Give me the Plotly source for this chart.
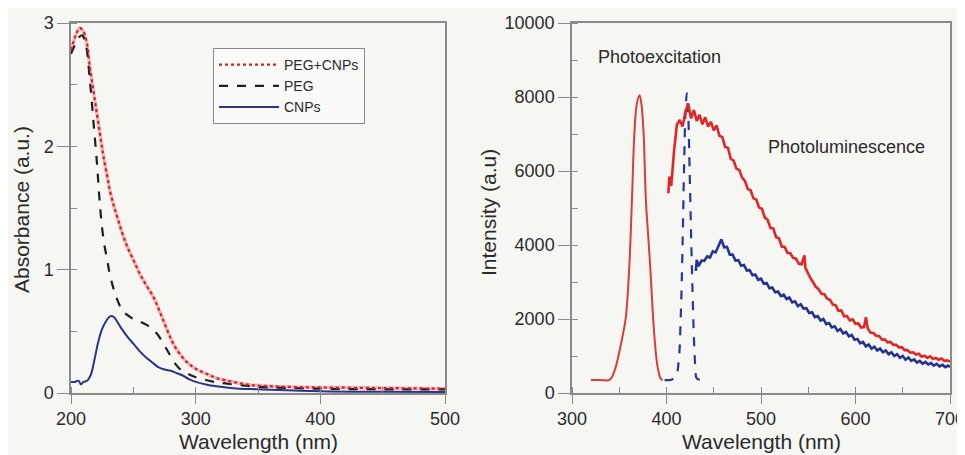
import plotly.graph_objects as go

# ---------------- Left panel: UV-Vis absorbance ----------------
abs_pegcnp_x = [200, 203, 205, 207, 210, 213, 215, 218, 221, 224, 226, 229, 231, 234, 237, 241, 245, 250,
                255, 260, 266, 270, 274, 278, 282, 287, 293, 298, 303, 310, 317, 330, 344, 360, 380, 400, 450, 500]
abs_pegcnp_y = [2.78, 2.88, 2.93, 2.96, 2.93, 2.82, 2.65, 2.45, 2.25, 2.05, 1.92, 1.76, 1.65, 1.53, 1.43, 1.30,
                1.19, 1.08, 0.97, 0.88, 0.78, 0.69, 0.59, 0.49, 0.40, 0.32, 0.25, 0.21, 0.18, 0.15, 0.12, 0.09,
                0.065, 0.055, 0.048, 0.045, 0.04, 0.035]

abs_peg_x = [200, 203, 206, 209, 212, 215, 218, 221, 223, 226, 229, 231, 234, 237, 240, 243, 247, 250, 255,
             261, 265, 269, 273, 277, 281, 285, 289, 293, 298, 303, 315, 330, 350, 400, 450, 500]
abs_peg_y = [2.75, 2.82, 2.88, 2.90, 2.82, 2.55, 2.20, 1.84, 1.55, 1.25, 1.08, 0.97, 0.85, 0.76, 0.69, 0.65,
             0.62, 0.60, 0.58, 0.55, 0.52, 0.48, 0.42, 0.35, 0.28, 0.22, 0.18, 0.16, 0.135, 0.12, 0.09, 0.07,
             0.05, 0.035, 0.03, 0.03]

abs_cnp_x = [200, 203, 206, 208, 210, 213, 216, 219, 222, 225, 228, 231, 234, 237, 240, 245, 250, 255, 260,
             265, 270, 275, 280, 285, 290, 295, 300, 310, 320, 335, 350, 400, 450, 500]
abs_cnp_y = [0.09, 0.09, 0.10, 0.07, 0.09, 0.10, 0.15, 0.28, 0.42, 0.52, 0.58, 0.62, 0.62, 0.58, 0.53, 0.46,
             0.40, 0.34, 0.29, 0.25, 0.21, 0.19, 0.18, 0.16, 0.14, 0.11, 0.09, 0.065, 0.05, 0.035, 0.03, 0.015,
             0.01, 0.008]

# ---------------- Right panel: excitation / photoluminescence ----------------
exc_red_x = [320, 330, 340, 345, 350, 354, 357, 360.6, 363.4, 366, 368.5, 371.5, 373.5, 375.8, 378.2, 380.5,
             382.8, 385, 387, 390.6, 394, 396]
exc_red_y = [350, 350, 360, 600, 1100, 1600, 2050, 3400, 5200, 7000, 7800, 8050, 7800, 7000, 5200, 4300,
             3400, 2400, 1600, 700, 380, 350]

exc_blue_x = [398, 405, 410, 413, 415, 417, 418.5, 420, 421.5, 423, 424.5, 426, 427.5, 429, 430.5, 432, 437]
exc_blue_y = [350, 360, 450, 900, 2000, 4000, 6000, 7500, 8100, 7500, 6000, 4300, 2800, 1500, 700, 400, 350]

pl_red_x = [402, 403, 405, 408, 411, 414, 417, 420, 423, 426, 429, 432, 435, 438, 441, 444, 447, 450, 453, 456,
            459, 462, 465, 468, 471, 474, 477, 480, 483, 486, 489, 492, 495, 498, 501, 504, 507, 510, 513, 516,
            519, 522, 525, 528, 531, 534, 537, 540, 543, 546, 547, 549, 552, 555, 558, 561, 564, 567, 570, 573,
            576, 579, 582, 585, 588, 591, 594, 597, 600, 603, 606, 609, 611, 613, 616, 619, 622, 625, 628, 631,
            634, 637, 640, 643, 646, 649, 652, 655, 658, 661, 664, 667, 670, 673, 676, 679, 682, 685, 688, 691,
            694, 697, 700]
pl_red_y = [5400, 5850, 5600, 6550, 7250, 7380, 7200, 7600, 7820, 7420, 7650, 7350, 7520, 7260, 7450, 7200,
            7330, 7100, 7230, 6950, 6920, 6650, 6630, 6330, 6280, 6060, 6030, 5820, 5730, 5510, 5480, 5260,
            5230, 5010, 4980, 4740, 4680, 4460, 4450, 4210, 4180, 3960, 3950, 3790, 3780, 3650, 3630, 3490,
            3480, 3720, 3380, 3270, 3120, 3000, 2870, 2800, 2680, 2670, 2550, 2520, 2390, 2370, 2220, 2230,
            2070, 2080, 1960, 1990, 1870, 1880, 1770, 1780, 2050, 1740, 1630, 1620, 1540, 1540, 1440, 1450,
            1370, 1380, 1300, 1300, 1230, 1240, 1160, 1160, 1090, 1100, 1040, 1060, 980, 1010, 950, 990, 920,
            950, 900, 930, 870, 880, 850]

pl_blue_x = [431, 432, 434, 437, 440, 443, 446, 449, 452, 455, 458, 461, 464, 467, 470, 473, 476, 479, 482, 485,
             488, 491, 494, 497, 500, 503, 506, 509, 512, 515, 518, 521, 524, 527, 530, 533, 536, 539, 542, 545,
             548, 551, 554, 557, 560, 563, 566, 569, 572, 575, 578, 581, 584, 587, 590, 593, 596, 599, 602, 605,
             608, 611, 614, 617, 620, 623, 626, 629, 632, 635, 638, 641, 644, 647, 650, 653, 656, 659, 662, 665,
             668, 671, 674, 677, 680, 683, 686, 689, 692, 695, 698, 700]
pl_blue_y = [3300, 3600, 3430, 3580, 3570, 3690, 3660, 3830, 3800, 4000, 4150, 3940, 3950, 3740, 3740, 3580,
             3590, 3440, 3460, 3310, 3320, 3180, 3200, 3060, 3090, 2950, 2970, 2830, 2850, 2720, 2740, 2620,
             2660, 2540, 2580, 2450, 2480, 2350, 2400, 2280, 2290, 2160, 2180, 2050, 2080, 1960, 2000, 1860,
             1890, 1770, 1800, 1680, 1730, 1610, 1650, 1530, 1570, 1440, 1460, 1340, 1380, 1260, 1310, 1200,
             1250, 1150, 1200, 1100, 1150, 1050, 1100, 1000, 1050, 950, 1000, 900, 960, 870, 910, 820, 870,
             790, 840, 770, 810, 740, 790, 720, 760, 700, 740, 700]

FONT = "Liberation Sans, Arial, Helvetica, sans-serif"
TXT = "#2b2b2b"
AX = "#8a8a8a"
BG = "#f6f6f3"

# page body has an 8px margin; figure is sized/positioned to compensate
OFF = 8
W, H = 965 - OFF, 455 - OFF
TOP, BOT = 23 - OFF, 393 - OFF  # plot area top / bottom in figure px
PH = BOT - TOP

fig = go.Figure()

# left panel traces
fig.add_trace(go.Scatter(x=abs_pegcnp_x, y=abs_pegcnp_y, mode="lines", showlegend=False, hoverinfo="skip",
                         line=dict(color="#f6b4b4", width=3.5, shape="spline"), xaxis="x", yaxis="y"))
fig.add_trace(go.Scatter(x=abs_peg_x, y=abs_peg_y, mode="lines", name="PEG", legendrank=2,
                         line=dict(color="#1e1e1e", width=2.2, dash="dash", shape="spline"), xaxis="x", yaxis="y"))
fig.add_trace(go.Scatter(x=abs_cnp_x, y=abs_cnp_y, mode="lines", name="CNPs", legendrank=3,
                         line=dict(color="#2b3486", width=2, shape="spline"), xaxis="x", yaxis="y"))
fig.add_trace(go.Scatter(x=abs_pegcnp_x, y=abs_pegcnp_y, mode="lines", name="PEG+CNPs", legendrank=1,
                         line=dict(color="#c0283a", width=2.2, dash="dot", shape="spline"), xaxis="x", yaxis="y"))

# right panel traces
fig.add_trace(go.Scatter(x=exc_red_x, y=exc_red_y, mode="lines", showlegend=False,
                         line=dict(color="#d83c3c", width=2, shape="spline"), xaxis="x2", yaxis="y2"))
fig.add_trace(go.Scatter(x=exc_blue_x, y=exc_blue_y, mode="lines", showlegend=False,
                         line=dict(color="#2b3a8c", width=2.2, dash="dash", shape="spline"), xaxis="x2", yaxis="y2"))
fig.add_trace(go.Scatter(x=pl_red_x, y=pl_red_y, mode="lines", showlegend=False,
                         line=dict(color="#e02626", width=2.6), xaxis="x2", yaxis="y2"))
fig.add_trace(go.Scatter(x=pl_blue_x, y=pl_blue_y, mode="lines", showlegend=False,
                         line=dict(color="#24338f", width=2.6), xaxis="x2", yaxis="y2"))


def xaxis_style(dom, rng, dtick, mdtick):
    return dict(domain=dom, range=rng, dtick=dtick, tick0=rng[0], showgrid=False, zeroline=False,
                showline=True, linecolor=AX, linewidth=1.5, mirror=True, ticklabeloverflow="allow",
                ticks="outside", ticklen=9, tickwidth=1.3, tickcolor=AX,
                minor=dict(dtick=mdtick, ticks="inside", ticklen=6, tickwidth=1.2, tickcolor=AX, showgrid=False),
                tickfont=dict(size=18, color=TXT, family=FONT), automargin=False)


def yaxis_style(anchor, rng, dtick, mdtick):
    return dict(anchor=anchor, domain=[0, 1], range=rng, dtick=dtick, tick0=0, showgrid=False, zeroline=False,
                showline=True, linecolor=AX, linewidth=1.5, mirror=True, tickformat="d",
                ticks="outside", ticklen=12, tickwidth=1.3, tickcolor=AX,
                minor=dict(dtick=mdtick, ticks="inside", ticklen=6, tickwidth=1.2, tickcolor=AX, showgrid=False),
                tickfont=dict(size=18, color=TXT, family=FONT), automargin=False)


def px_x(x):
    return (x - OFF) / W


def px_y(y):
    return (BOT - (y - OFF)) / PH


title_font = dict(size=21, color=TXT, family=FONT)

fig.update_layout(
    width=W, height=H,
    margin=dict(l=0, r=0, t=TOP, b=H - BOT),
    paper_bgcolor=BG, plot_bgcolor=BG,
    font=dict(family=FONT, color=TXT),
    xaxis=xaxis_style([px_x(71), px_x(445)], [200, 500], 100, 50),
    yaxis=yaxis_style("x", [0, 3], 1, 0.5),
    xaxis2=dict(xaxis_style([px_x(572), px_x(950)], [300, 700], 100, 50), anchor="y2"),
    yaxis2=yaxis_style("x2", [0, 10000], 2000, 1000),
    legend=dict(x=px_x(213), y=px_y(48), xanchor="left", yanchor="top", bgcolor="rgba(250,250,248,0.95)",
                bordercolor="#8a8a8a", borderwidth=1, font=dict(size=14, color=TXT, family=FONT),
                traceorder="normal", itemwidth=60, tracegroupgap=0),
    annotations=[
        dict(x=325, y=9080, xref="x2", yref="y2", text="Photoexcitation", showarrow=False, xanchor="left",
             font=dict(size=18, color=TXT, family=FONT)),
        dict(x=505, y=6650, xref="x2", yref="y2", text="Photoluminescence", showarrow=False, xanchor="left",
             font=dict(size=18, color=TXT, family=FONT)),
        # axis titles
        dict(x=px_x(258), y=px_y(441), xref="paper", yref="paper", text="Wavelength (nm)", showarrow=False,
             xanchor="center", yanchor="middle", font=title_font),
        dict(x=px_x(761), y=px_y(441), xref="paper", yref="paper", text="Wavelength (nm)", showarrow=False,
             xanchor="center", yanchor="middle", font=title_font),
        dict(x=px_x(22), y=px_y(210), xref="paper", yref="paper", text="Absorbance (a.u.)", showarrow=False,
             textangle=-90, xanchor="center", yanchor="middle", font=title_font),
        dict(x=px_x(488), y=px_y(212), xref="paper", yref="paper", text="Intensity (a.u)", showarrow=False,
             textangle=-90, xanchor="center", yanchor="middle", font=title_font),
    ],
)

fig.write_html("out.html")
